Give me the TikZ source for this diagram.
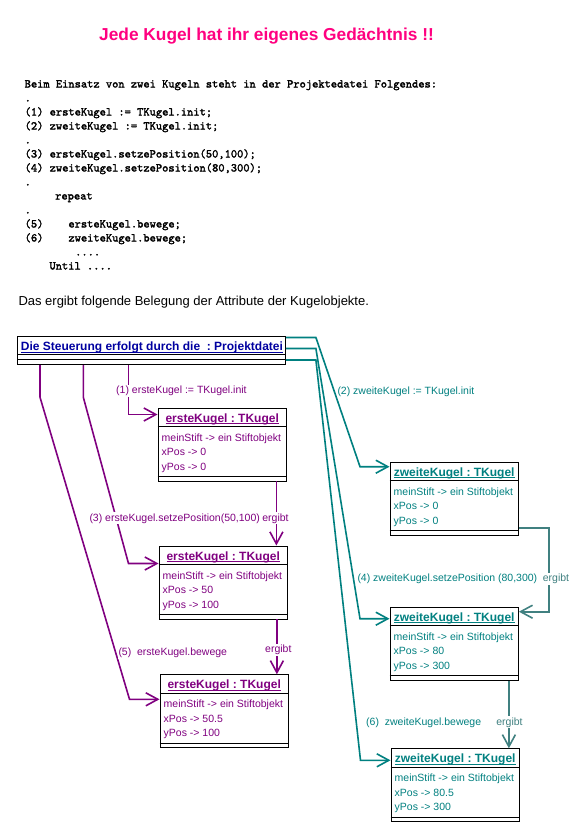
\documentclass[tikz,border=0pt]{standalone}
\usepackage{fontspec}
\setmainfont{Liberation Sans}
\newfontfamily\kcodefont{lmmono10-regular.otf}[FakeBold=2]
\usetikzlibrary{arrows.meta,calc}
\definecolor{kpink}{RGB}{255,0,128}
\definecolor{kpurple}{RGB}{128,0,128}
\definecolor{kteal}{RGB}{0,128,128}
\definecolor{kgteal}{RGB}{64,128,128}
\definecolor{kblue}{RGB}{0,0,160}
\newcommand\kul[1]{\setbox0\hbox{#1}\rlap{\rule[-2pt]{\wd0}{1pt}}\box0}
\tikzset{
  kbox/.style={draw=black, line width=0.9pt, minimum width=128.5pt, minimum height=73pt, inner sep=0, anchor=north west},
  ktitle/.style={font=\fontsize{12}{14}\selectfont\bfseries, anchor=base, inner sep=0},
  kattr/.style={font=\fontsize{10.5}{12}\selectfont, anchor=base west, inner sep=0},
  klabel/.style={font=\fontsize{10.5}{12}\selectfont, anchor=base west, fill=white, inner sep=1pt},
  kerg/.style={font=\fontsize{10.5}{12}\selectfont, anchor=base, fill=white, inner sep=1pt},
  codeline/.style={font=\kcodefont\fontsize{11.9}{14}\selectfont, anchor=base west, inner sep=0},
  tip/.style={-{Straight Barb[length=12pt,width=13pt,line width=1.6pt]}},
  pconn/.style={tip, line width=1.6pt, draw=kpurple},
  tconn/.style={tip, line width=1.6pt, draw=kteal},
  gconn/.style={tip, line width=1.6pt, draw=kgteal},
  divline/.style={line width=0.9pt, draw=black}
}
\newcommand\kugel[6]{%
  \node[kbox] (#1) at (#2) {};
  \draw[divline] ($(#1.north west)+(0,19)$) -- ($(#1.north east)+(0,19)$);
  \draw[divline] ($(#1.south west)+(0,-5)$) -- ($(#1.south east)+(0,-5)$);
  \node[ktitle, text=#3] (#1t) at ($(#1.north)+(0,14.5)$) {\kul{#4}};
  \node[kattr, text=#3] (#1a) at ($(#1.north west)+(4,33.5)$) {meinStift -> ein Stiftobjekt};
  \node[kattr, text=#3] (#1b) at ($(#1.north west)+(4,48)$) {xPos -> #5};
  \node[kattr, text=#3] (#1c) at ($(#1.north west)+(4,62.5)$) {yPos -> #6};
}
\begin{document}
\begin{tikzpicture}[x=1pt,y=-1pt]
\frenchspacing
\fill[white] (0,0) rectangle (583,839);
\useasboundingbox (0,0) rectangle (583,839);

% title
\node[font=\fontsize{17.3}{20}\selectfont\bfseries, text=kpink, anchor=base, inner sep=0] (title) at (266.5,40.5) {Jede Kugel hat ihr eigenes Gedächtnis !!};

% code
\node[codeline] (c0) at (24.5,87.5) {Beim Einsatz von zwei Kugeln steht in der Projektedatei Folgendes:};
\node[codeline] (c1) at (24.5,101.5) {.};
\node[codeline] (c2) at (24.5,115.5) {(1) ersteKugel := TKugel.init;};
\node[codeline] (c3) at (24.5,129.5) {(2) zweiteKugel := TKugel.init;};
\node[codeline] (c4) at (24.5,143.5) {.};
\node[codeline] (c5) at (24.5,157.5) {(3) ersteKugel.setzePosition(50,100);};
\node[codeline] (c6) at (24.5,171.5) {(4) zweiteKugel.setzePosition(80,300);};
\node[codeline] (c7) at (24.5,185.5) {.};
\node[codeline] (c8) at (55,199.5) {repeat};
\node[codeline] (c9) at (24.5,213.5) {.};
\node[codeline] (c10) at (24.5,227.5) {(5)\ \ \ \ ersteKugel.bewege;};
\node[codeline] (c11) at (24.5,241.5) {(6)\ \ \ \ zweiteKugel.bewege;};
\node[codeline] (c12) at (75,255.5) {....};
\node[codeline] (c13) at (49.3,269.5) {Until ....};

\node[font=\fontsize{13}{15}\selectfont, anchor=base west, inner sep=0] (intro) at (18.3,305) {Das ergibt folgende Belegung der Attribute der Kugelobjekte.};

% header
\node[draw=black, line width=0.9pt, minimum width=267.7pt, minimum height=28.3pt, anchor=north west, inner sep=0] (hdr) at (17.3,336) {};
\draw[divline] ($(hdr.north west)+(0,18.7)$) -- ($(hdr.north east)+(0,18.7)$);
\draw[divline] ($(hdr.north west)+(0,23.3)$) -- ($(hdr.north east)+(0,23.3)$);
\node[font=\fontsize{12}{14}\selectfont\bfseries, text=kblue, anchor=base west, inner sep=0] (hdrt) at ($(hdr.north west)+(3.4,14.7)$) {\kul{Die Steuerung erfolgt durch die\ \ : Projektdatei}};

% boxes
\kugel{e1}{157.5,407.5}{kpurple}{ersteKugel : TKugel}{0}{0}
\kugel{e2}{158.5,545.5}{kpurple}{ersteKugel : TKugel}{50}{100}
\kugel{e3}{159.5,674.3}{kpurple}{ersteKugel : TKugel}{50.5}{100}
\kugel{z1}{389.5,461.7}{kteal}{zweiteKugel : TKugel}{0}{0}
\kugel{z2}{389.5,606.7}{kteal}{zweiteKugel : TKugel}{80}{300}
\kugel{z3}{390.5,748.3}{kteal}{zweiteKugel : TKugel}{80.5}{300}

% purple connectors
\draw[pconn] ($(hdr.south west)+(111,0)$) |- ($(e1.north west)+(0,7)$);
\draw[pconn] ($(hdr.south west)+(66,0)$) -- ++(0,32) -- ($(e2.north west)+(-30,18)$) -- ($(e2.north west)+(0,18)$);
\draw[pconn] ($(hdr.south west)+(22.7,0)$) -- ++(0,32) -- ($(e3.north west)+(-30,25)$) -- ($(e3.north west)+(0,25)$);
\coordinate (e1b) at ($(e1.south east)+(-10.5,0)$);
\draw[pconn] (e1b) -- (e1b |- e2.north);
\coordinate (e2b) at ($(e2.south east)+(-11,0)$);
\draw[pconn] (e2b) -- (e2b |- e3.north);

% teal connectors
\draw[tconn] ($(hdr.north east)+(0,1.5)$) -- ++(30,0) -- ($(z1.north west)+(-29.5,5)$) -- ($(z1.north west)+(0,5)$);
\draw[tconn] ($(hdr.north east)+(0,12.5)$) -- ++(30,0) -- ($(z2.north west)+(-29.5,12)$) -- ($(z2.north west)+(0,12)$);
\draw[tconn] ($(hdr.north east)+(0,24)$) -- ++(30,0) -- ($(z3.north west)+(-30,12)$) -- ($(z3.north west)+(0,12)$);
\draw[gconn] ($(z1.north east)+(0,66)$) -- ++(30,0) |- ($(z2.north east)+(0,5)$);
\coordinate (z2b) at ($(z2.south east)+(-10,0)$);
\draw[gconn] (z2b) -- (z2b |- z3.north);

% labels
\node[klabel, text=kpurple] (l1) at (115,393.5) {(1) ersteKugel := TKugel.init};
\node[klabel, text=kteal] (l2) at (336.3,394) {(2) zweiteKugel := TKugel.init};
\node[klabel, text=kpurple] (l3) at (88.3,521) {(3) ersteKugel.setzePosition(50,100)};
\node[kerg, text=kpurple] (g3) at (275.5,521) {ergibt};
\node[klabel, text=kteal] (l4) at (356.3,581.7) {(4) zweiteKugel.setzePosition (80,300)};
\node[kerg, text=kgteal] (g4) at (556,581.7) {ergibt};
\node[klabel, text=kpurple] (l5) at (117.3,655.7) {(5)\ \ ersteKugel.bewege};
\node[kerg, text=kpurple] (g5) at (278.3,652.5) {ergibt};
\node[klabel, text=kteal] (l6) at (365,725) {(6)\ \ zweiteKugel.bewege};
\node[kerg, text=kgteal] (g6) at (509.5,725) {ergibt};
\end{tikzpicture}
\end{document}
